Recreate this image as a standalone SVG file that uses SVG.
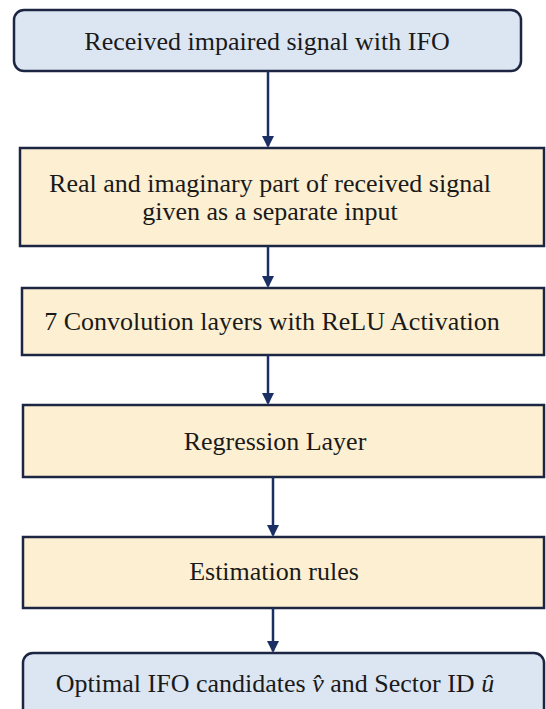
<svg xmlns="http://www.w3.org/2000/svg" width="546" height="709" viewBox="0 0 546 709">
<style>
.blue{fill:#dce6f3;stroke:#1c2541;stroke-width:2.5}
.gold{fill:#fdf0d2;stroke:#1c2541;stroke-width:2.5}
text{font-family:"Liberation Serif","Times New Roman",serif;font-size:26px;fill:#1a1a1a;text-anchor:middle}
.conn line{stroke:#1a2f63;stroke-width:2.5}
</style>
<defs>
<marker id="ah" markerWidth="12" markerHeight="12" refX="10" refY="6" orient="auto" markerUnits="userSpaceOnUse" viewBox="0 0 12 12">
<path d="M0,0 L12,6 L0,12 z" fill="#1a2f63"/>
</marker>
</defs>
<rect width="546" height="709" fill="#ffffff"/>
<g id="n1">
<rect class="blue" x="14" y="10" width="507" height="61" rx="10"/>
<text x="267" y="50">Received impaired signal with IFO</text>
</g>
<g id="n2">
<rect class="gold" x="20" y="148" width="524" height="98"/>
<text x="270" y="192">Real and imaginary part of received signal</text>
<text x="270" y="220">given as a separate input</text>
</g>
<g id="n3">
<rect class="gold" x="22" y="288" width="522" height="67"/>
<text x="272" y="330">7 Convolution layers with ReLU Activation</text>
</g>
<g id="n4">
<rect class="gold" x="23" y="405" width="521" height="72"/>
<text x="275" y="450">Regression Layer</text>
</g>
<g id="n5">
<rect class="gold" x="23" y="537" width="521" height="71"/>
<text x="274" y="580">Estimation rules</text>
</g>
<g id="n6">
<rect class="blue" x="23" y="653" width="521" height="70" rx="10"/>
<text x="275" y="692">Optimal IFO candidates <tspan font-style="italic">v̂</tspan> and Sector ID <tspan font-style="italic">û</tspan></text>
</g>
<g class="conn" id="connectors">
<line x1="268" y1="71" x2="268" y2="146" marker-end="url(#ah)"/>
<line x1="268" y1="246" x2="268" y2="286" marker-end="url(#ah)"/>
<line x1="268" y1="355" x2="268" y2="403" marker-end="url(#ah)"/>
<line x1="273" y1="477" x2="273" y2="535" marker-end="url(#ah)"/>
<line x1="273" y1="608" x2="273" y2="651" marker-end="url(#ah)"/>
</g>
</svg>
